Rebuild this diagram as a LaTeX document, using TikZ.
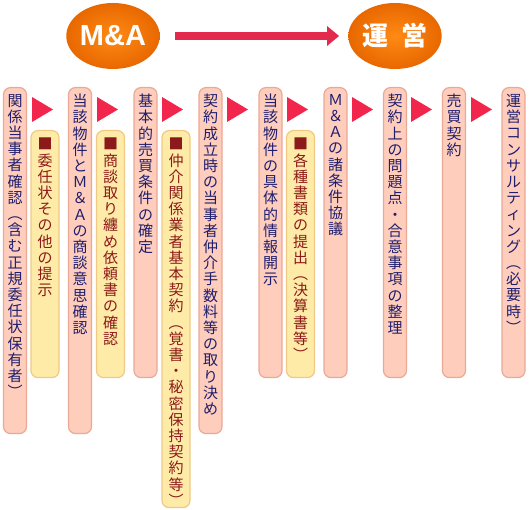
\documentclass[tikz,border=0pt]{standalone}
\usepackage{fontspec}
\setmainfont{Liberation Sans}
\newfontfamily\jpfont{Noto Sans CJK JP}
\usetikzlibrary{positioning,shapes.geometric,arrows.meta}

\definecolor{orangelight}{HTML}{FF8A14}
\definecolor{orangedark}{HTML}{E86800}
\definecolor{arrowred}{HTML}{E32A4C}
\definecolor{markred}{HTML}{F2264C}
\definecolor{pinkfill}{HTML}{FFCDBB}
\definecolor{pinkedge}{HTML}{EAA896}
\definecolor{yellowfill}{HTML}{FFEBA8}
\definecolor{yellowedge}{HTML}{EFC985}
\definecolor{navytext}{HTML}{1E1E6E}
\definecolor{maroontext}{HTML}{8C1A1A}

% one character per line
\newcommand{\tate}[1]{\vbox{\baselineskip=16.2pt\lineskiplimit=-20pt\lineskip=0pt\tateloop#1\relax}}
\def\tateloop#1{\ifx\relax#1\else\hbox to 15pt{\hss#1\hss}\expandafter\tateloop\fi}

\tikzset{
  phase/.style={ellipse, minimum width=89pt, minimum height=66pt, inner sep=0,
    inner color=orangelight, outer color=orangedark, text=white,
    font=\bfseries\fontsize{29pt}{30pt}\selectfont},
  bigarrow/.style={draw=arrowred, line width=8pt, shorten <=15pt, shorten >=9pt,
    -{Triangle[length=12pt,width=19pt]}},
  stepcol/.style={rectangle, rounded corners=7pt, draw=pinkedge, line width=1.2pt,
    fill=pinkfill, minimum width=23pt, inner sep=0, anchor=north},
  notecol/.style={rectangle, rounded corners=7pt, draw=yellowedge, line width=1.2pt,
    fill=yellowfill, minimum width=28pt, inner sep=0, anchor=north},
  steptext/.style={inner sep=0, text=navytext, font=\jpfont\fontsize{15pt}{16pt}\selectfont},
  notetext/.style={inner sep=0, text=maroontext, font=\jpfont\fontsize{15pt}{16pt}\selectfont},
  pointer/.style={fill=markred}
}

\begin{document}
\begin{tikzpicture}[x=1pt,y=1pt]
    \useasboundingbox (0,0) rectangle (530,510);

    \node[phase] (ma) at (113,474) {M\&A};
    \node[phase,font=\jpfont\bfseries\fontsize{26pt}{28pt}\selectfont] (unei) at (395,474) {運\hspace{14pt}営};
    \draw[bigarrow] (ma) -- (unei);

    \node[stepcol,minimum height=346pt] (c1) at (15,423) {};
    \node[steptext,below=7pt of c1.north] (c1t) {\tate{関係当事者確認︵含む正規委任状保有者︶}};
    \node[notecol,minimum height=247pt] (n1) at (45,380) {};
    \node[notetext,below=8pt of n1.north] (n1t) {\tate{■委任状その他の提示}};

    \node[stepcol,minimum height=346pt] (c2) at (80,423) {};
    \node[steptext,below=7pt of c2.north] (c2t) {\tate{当該物件とＭ＆Ａの商談意思確認}};
    \node[notecol,minimum height=247pt] (n2) at (110.5,380) {};
    \node[notetext,below=8pt of n2.north] (n2t) {\tate{■商談取り纏め依頼書の確認}};

    \node[stepcol,minimum height=290pt] (c3) at (145.5,423) {};
    \node[steptext,below=7pt of c3.north] (c3t) {\tate{基本的売買条件の確定}};
    \node[notecol,minimum height=377pt] (n3) at (176,380) {};
    \node[notetext,below=8pt of n3.north] (n3t) {\tate{■仲介関係業者基本契約︵覚書・秘密保持契約等︶}};

    \node[stepcol,minimum height=346pt] (c4) at (210.5,423) {};
    \node[steptext,below=7pt of c4.north] (c4t) {\tate{契約成立時の当事者仲介手数料等の取り決め}};

    \node[stepcol,minimum height=290pt] (c5) at (270.5,423) {};
    \node[steptext,below=7pt of c5.north] (c5t) {\tate{当該物件の具体的情報開示}};
    \node[notecol,minimum height=247pt] (n5) at (300.5,380) {};
    \node[notetext,below=8pt of n5.north] (n5t) {\tate{■各種書類の提出︵決算書等︶}};

    \node[stepcol,minimum height=290pt] (c6) at (335.5,423) {};
    \node[steptext,below=7pt of c6.north] (c6t) {\tate{Ｍ＆Ａの諸条件協議}};

    \node[stepcol,minimum height=290pt] (c7) at (395,423) {};
    \node[steptext,below=7pt of c7.north] (c7t) {\tate{契約上の問題点・合意事項の整理}};

    \node[stepcol,minimum height=290pt] (c8) at (454,423) {};
    \node[steptext,below=7pt of c8.north] (c8t) {\tate{売買契約}};

    \node[stepcol,minimum height=290pt] (c9) at (513.5,423) {};
    \node[steptext,below=7pt of c9.north] (c9t) {\tate{運営コンサルティング︵必要時︶}};

    \fill[pointer] (32,413) -- ++(21,-12.5) -- ++(-21,-12.5) -- cycle;
    \fill[pointer] (97,413) -- ++(21,-12.5) -- ++(-21,-12.5) -- cycle;
    \fill[pointer] (162,413) -- ++(21,-12.5) -- ++(-21,-12.5) -- cycle;
    \fill[pointer] (227,413) -- ++(21,-12.5) -- ++(-21,-12.5) -- cycle;
    \fill[pointer] (287,413) -- ++(21,-12.5) -- ++(-21,-12.5) -- cycle;
    \fill[pointer] (352,413) -- ++(21,-12.5) -- ++(-21,-12.5) -- cycle;
    \fill[pointer] (411,413) -- ++(21,-12.5) -- ++(-21,-12.5) -- cycle;
    \fill[pointer] (471,413) -- ++(21,-12.5) -- ++(-21,-12.5) -- cycle;
\end{tikzpicture}
\end{document}
